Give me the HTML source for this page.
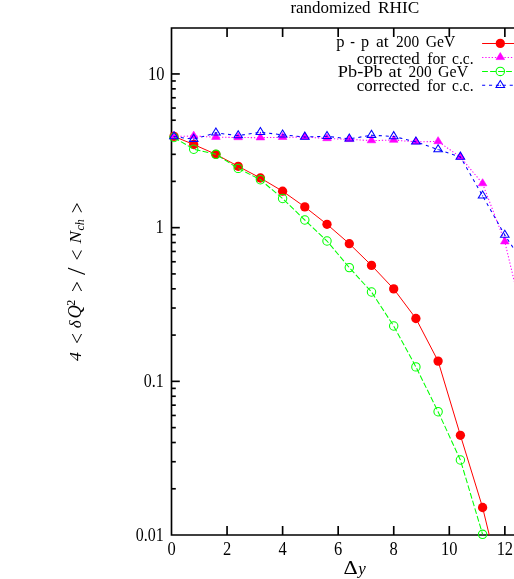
<!DOCTYPE html>
<html><head><meta charset="utf-8"><title>plot</title>
<style>html,body{margin:0;padding:0;background:#fff;overflow:hidden}svg text{font-family:"Liberation Serif",serif}</style></head>
<body>
<svg width="514" height="579" viewBox="0 0 514 579" style="display:block">
<rect width="514" height="579" fill="#fff"/>
<defs><clipPath id="pc"><rect x="171.5" y="27.95" width="400" height="507.05"/></clipPath></defs>
<g stroke="#000" stroke-width="1.65" fill="none" stroke-linecap="butt">
<path d="M519,27.95 H171.5 V535.0 H519"/>
<path d="M227.06,535.0 v-9 M227.06,27.95 v9"/>
<path d="M282.62,535.0 v-9 M282.62,27.95 v9"/>
<path d="M338.18,535.0 v-9 M338.18,27.95 v9"/>
<path d="M393.74,535.0 v-9 M393.74,27.95 v9"/>
<path d="M449.30,535.0 v-9 M449.30,27.95 v9"/>
<path d="M504.86,535.0 v-9 M504.86,27.95 v9"/>
<path d="M171.5,488.78 h4.3"/>
<path d="M171.5,461.72 h4.3"/>
<path d="M171.5,442.51 h4.3"/>
<path d="M171.5,427.62 h4.3"/>
<path d="M171.5,415.45 h4.3"/>
<path d="M171.5,405.16 h4.3"/>
<path d="M171.5,396.25 h4.3"/>
<path d="M171.5,388.38 h4.3"/>
<path d="M171.5,381.35 h8.3"/>
<path d="M171.5,335.08 h4.3"/>
<path d="M171.5,308.02 h4.3"/>
<path d="M171.5,288.81 h4.3"/>
<path d="M171.5,273.92 h4.3"/>
<path d="M171.5,261.75 h4.3"/>
<path d="M171.5,251.46 h4.3"/>
<path d="M171.5,242.55 h4.3"/>
<path d="M171.5,234.68 h4.3"/>
<path d="M171.5,227.65 h8.3"/>
<path d="M171.5,181.38 h4.3"/>
<path d="M171.5,154.32 h4.3"/>
<path d="M171.5,135.11 h4.3"/>
<path d="M171.5,120.22 h4.3"/>
<path d="M171.5,108.05 h4.3"/>
<path d="M171.5,97.76 h4.3"/>
<path d="M171.5,88.85 h4.3"/>
<path d="M171.5,80.98 h4.3"/>
<path d="M171.5,73.95 h8.3"/>
</g>
<g fill="none" stroke-width="1.05">
<polyline clip-path="url(#pc)" points="174.0,136.4 193.7,144.5 215.9,154.3 238.2,166.3 260.4,178.0 282.6,191.2 304.8,206.9 327.0,224.3 349.3,243.7 371.5,265.4 393.7,288.9 415.9,318.5 438.1,361.1 460.4,435.3 482.6,507.5 504.8,599.0" stroke="#ff0000" stroke-width="1.0"/>
<circle cx="174.0" cy="136.4" r="4.65" fill="#ff0000" stroke="none"/>
<circle cx="193.7" cy="144.5" r="4.65" fill="#ff0000" stroke="none"/>
<circle cx="215.9" cy="154.3" r="4.65" fill="#ff0000" stroke="none"/>
<circle cx="238.2" cy="166.3" r="4.65" fill="#ff0000" stroke="none"/>
<circle cx="260.4" cy="178.0" r="4.65" fill="#ff0000" stroke="none"/>
<circle cx="282.6" cy="191.2" r="4.65" fill="#ff0000" stroke="none"/>
<circle cx="304.8" cy="206.9" r="4.65" fill="#ff0000" stroke="none"/>
<circle cx="327.0" cy="224.3" r="4.65" fill="#ff0000" stroke="none"/>
<circle cx="349.3" cy="243.7" r="4.65" fill="#ff0000" stroke="none"/>
<circle cx="371.5" cy="265.4" r="4.65" fill="#ff0000" stroke="none"/>
<circle cx="393.7" cy="288.9" r="4.65" fill="#ff0000" stroke="none"/>
<circle cx="415.9" cy="318.5" r="4.65" fill="#ff0000" stroke="none"/>
<circle cx="438.1" cy="361.1" r="4.65" fill="#ff0000" stroke="none"/>
<circle cx="460.4" cy="435.3" r="4.65" fill="#ff0000" stroke="none"/>
<circle cx="482.6" cy="507.5" r="4.65" fill="#ff0000" stroke="none"/>
<polyline clip-path="url(#pc)" points="174.0,136.5 193.7,136.0 215.9,137.2 238.2,137.5 260.4,137.7 282.6,137.3 304.8,137.0 327.0,138.5 349.3,139.4 371.5,140.6 393.7,140.1 415.9,141.8 438.1,141.5 460.4,157.0 482.6,183.6 504.8,241.7 527.0,334.5" stroke="#ff00ff" stroke-dasharray="1.3 1.9"/>
<path d="M174.0,131.63 L169.70,138.68 L178.30,138.68 Z" fill="#ff00ff" stroke="#ff00ff" stroke-width="0.6"/>
<path d="M193.7,131.13 L189.42,138.18 L198.02,138.18 Z" fill="#ff00ff" stroke="#ff00ff" stroke-width="0.6"/>
<path d="M215.9,132.33 L211.64,139.38 L220.24,139.38 Z" fill="#ff00ff" stroke="#ff00ff" stroke-width="0.6"/>
<path d="M238.2,132.63 L233.86,139.68 L242.46,139.68 Z" fill="#ff00ff" stroke="#ff00ff" stroke-width="0.6"/>
<path d="M260.4,132.83 L256.08,139.88 L264.68,139.88 Z" fill="#ff00ff" stroke="#ff00ff" stroke-width="0.6"/>
<path d="M282.6,132.43 L278.30,139.48 L286.90,139.48 Z" fill="#ff00ff" stroke="#ff00ff" stroke-width="0.6"/>
<path d="M304.8,132.13 L300.52,139.18 L309.12,139.18 Z" fill="#ff00ff" stroke="#ff00ff" stroke-width="0.6"/>
<path d="M327.0,133.63 L322.74,140.68 L331.34,140.68 Z" fill="#ff00ff" stroke="#ff00ff" stroke-width="0.6"/>
<path d="M349.3,134.53 L344.96,141.58 L353.56,141.58 Z" fill="#ff00ff" stroke="#ff00ff" stroke-width="0.6"/>
<path d="M371.5,135.73 L367.18,142.78 L375.78,142.78 Z" fill="#ff00ff" stroke="#ff00ff" stroke-width="0.6"/>
<path d="M393.7,135.23 L389.40,142.28 L398.00,142.28 Z" fill="#ff00ff" stroke="#ff00ff" stroke-width="0.6"/>
<path d="M415.9,136.93 L411.62,143.98 L420.22,143.98 Z" fill="#ff00ff" stroke="#ff00ff" stroke-width="0.6"/>
<path d="M438.1,136.63 L433.84,143.68 L442.44,143.68 Z" fill="#ff00ff" stroke="#ff00ff" stroke-width="0.6"/>
<path d="M460.4,152.13 L456.06,159.18 L464.66,159.18 Z" fill="#ff00ff" stroke="#ff00ff" stroke-width="0.6"/>
<path d="M482.6,178.73 L478.28,185.78 L486.88,185.78 Z" fill="#ff00ff" stroke="#ff00ff" stroke-width="0.6"/>
<path d="M504.8,236.83 L500.50,243.88 L509.10,243.88 Z" fill="#ff00ff" stroke="#ff00ff" stroke-width="0.6"/>
<polyline clip-path="url(#pc)" points="174.0,137.5 193.7,149.2 215.9,154.3 238.2,168.4 260.4,179.7 282.6,198.5 304.8,220.0 327.0,241.0 349.3,267.6 371.5,292.0 393.7,326.0 415.9,366.9 438.1,411.7 460.4,460.0 482.6,534.3" stroke="#00ff00" stroke-width="1.05" stroke-dasharray="5.8 2.2"/>
<circle cx="174.0" cy="137.5" r="4.2" stroke="#00ff00"/>
<circle cx="193.7" cy="149.2" r="4.2" stroke="#00ff00"/>
<circle cx="215.9" cy="154.3" r="4.2" stroke="#00ff00"/>
<circle cx="238.2" cy="168.4" r="4.2" stroke="#00ff00"/>
<circle cx="260.4" cy="179.7" r="4.2" stroke="#00ff00"/>
<circle cx="282.6" cy="198.5" r="4.2" stroke="#00ff00"/>
<circle cx="304.8" cy="220.0" r="4.2" stroke="#00ff00"/>
<circle cx="327.0" cy="241.0" r="4.2" stroke="#00ff00"/>
<circle cx="349.3" cy="267.6" r="4.2" stroke="#00ff00"/>
<circle cx="371.5" cy="292.0" r="4.2" stroke="#00ff00"/>
<circle cx="393.7" cy="326.0" r="4.2" stroke="#00ff00"/>
<circle cx="415.9" cy="366.9" r="4.2" stroke="#00ff00"/>
<circle cx="438.1" cy="411.7" r="4.2" stroke="#00ff00"/>
<circle cx="460.4" cy="460.0" r="4.2" stroke="#00ff00"/>
<circle cx="482.6" cy="534.3" r="4.2" stroke="#00ff00"/>
<polyline clip-path="url(#pc)" points="174.0,136.6 193.7,139.2 215.9,132.9 238.2,135.6 260.4,132.3 282.6,134.8 304.8,137.0 327.0,136.3 349.3,138.9 371.5,135.2 393.7,136.5 415.9,141.9 438.1,149.6 460.4,157.0 482.6,195.8 504.8,235.1 527.0,268.5" stroke="#0000ff" stroke-dasharray="3.1 3.8"/>
<path d="M174.0,131.73 L169.70,138.78 L178.30,138.78 Z" stroke="#0000ff"/>
<circle cx="174.0" cy="136.6" r="0.6" fill="#0000ff" stroke="none"/>
<path d="M193.7,134.33 L189.42,141.38 L198.02,141.38 Z" stroke="#0000ff"/>
<circle cx="193.7" cy="139.2" r="0.6" fill="#0000ff" stroke="none"/>
<path d="M215.9,128.03 L211.64,135.08 L220.24,135.08 Z" stroke="#0000ff"/>
<circle cx="215.9" cy="132.9" r="0.6" fill="#0000ff" stroke="none"/>
<path d="M238.2,130.73 L233.86,137.78 L242.46,137.78 Z" stroke="#0000ff"/>
<circle cx="238.2" cy="135.6" r="0.6" fill="#0000ff" stroke="none"/>
<path d="M260.4,127.43 L256.08,134.48 L264.68,134.48 Z" stroke="#0000ff"/>
<circle cx="260.4" cy="132.3" r="0.6" fill="#0000ff" stroke="none"/>
<path d="M282.6,129.93 L278.30,136.98 L286.90,136.98 Z" stroke="#0000ff"/>
<circle cx="282.6" cy="134.8" r="0.6" fill="#0000ff" stroke="none"/>
<path d="M304.8,132.13 L300.52,139.18 L309.12,139.18 Z" stroke="#0000ff"/>
<circle cx="304.8" cy="137.0" r="0.6" fill="#0000ff" stroke="none"/>
<path d="M327.0,131.43 L322.74,138.48 L331.34,138.48 Z" stroke="#0000ff"/>
<circle cx="327.0" cy="136.3" r="0.6" fill="#0000ff" stroke="none"/>
<path d="M349.3,134.03 L344.96,141.08 L353.56,141.08 Z" stroke="#0000ff"/>
<circle cx="349.3" cy="138.9" r="0.6" fill="#0000ff" stroke="none"/>
<path d="M371.5,130.33 L367.18,137.38 L375.78,137.38 Z" stroke="#0000ff"/>
<circle cx="371.5" cy="135.2" r="0.6" fill="#0000ff" stroke="none"/>
<path d="M393.7,131.63 L389.40,138.68 L398.00,138.68 Z" stroke="#0000ff"/>
<circle cx="393.7" cy="136.5" r="0.6" fill="#0000ff" stroke="none"/>
<path d="M415.9,137.03 L411.62,144.08 L420.22,144.08 Z" stroke="#0000ff"/>
<circle cx="415.9" cy="141.9" r="0.6" fill="#0000ff" stroke="none"/>
<path d="M438.1,144.73 L433.84,151.78 L442.44,151.78 Z" stroke="#0000ff"/>
<circle cx="438.1" cy="149.6" r="0.6" fill="#0000ff" stroke="none"/>
<path d="M460.4,152.13 L456.06,159.18 L464.66,159.18 Z" stroke="#0000ff"/>
<circle cx="460.4" cy="157.0" r="0.6" fill="#0000ff" stroke="none"/>
<path d="M482.6,190.93 L478.28,197.98 L486.88,197.98 Z" stroke="#0000ff"/>
<circle cx="482.6" cy="195.8" r="0.6" fill="#0000ff" stroke="none"/>
<path d="M504.8,230.23 L500.50,237.28 L509.10,237.28 Z" stroke="#0000ff"/>
<circle cx="504.8" cy="235.1" r="0.6" fill="#0000ff" stroke="none"/>
</g>
<g fill="none" stroke-width="1.05">
<path d="M482.1,43.4 H520" stroke="#ff0000"/><circle cx="500.3" cy="43.4" r="4.65" fill="#ff0000"/>
<path d="M482.1,57.4 H520" stroke="#ff00ff" stroke-dasharray="1.3 1.9"/><path d="M500.3,52.53 L496.00,59.57 L504.60,59.57 Z" fill="#ff00ff" stroke="#ff00ff" stroke-width="0.6"/>
<path d="M482.1,71.4 H520" stroke="#00ff00" stroke-dasharray="5.8 2.2"/><circle cx="500.3" cy="71.4" r="4.2" stroke="#00ff00"/>
<path d="M482.1,85.33 H520" stroke="#0000ff" stroke-dasharray="3.1 3.8"/><path d="M500.3,80.46 L496.00,87.50 L504.60,87.50 Z" stroke="#0000ff"/><circle cx="500.3" cy="85.33" r="0.6" fill="#0000ff"/>
</g>
<g font-family="'Liberation Serif', serif" font-size="17" fill="#000" style="opacity:0.999">
<text transform="translate(290.40,12.70) scale(0.9975,1)">randomized</text>
<text transform="translate(378.00,12.70) scale(1.0174,1)">RHIC</text>
<text transform="translate(171.50,555.00) scale(0.9700,1.06)" word-spacing="1.1" text-anchor="middle">0</text>
<text transform="translate(227.06,555.00) scale(0.9700,1.06)" word-spacing="1.1" text-anchor="middle">2</text>
<text transform="translate(282.62,555.00) scale(0.9700,1.06)" word-spacing="1.1" text-anchor="middle">4</text>
<text transform="translate(338.18,555.00) scale(0.9700,1.06)" word-spacing="1.1" text-anchor="middle">6</text>
<text transform="translate(393.74,555.00) scale(0.9700,1.06)" word-spacing="1.1" text-anchor="middle">8</text>
<text transform="translate(449.30,555.00) scale(0.9700,1.06)" word-spacing="1.1" text-anchor="middle">10</text>
<text transform="translate(504.86,555.00) scale(0.9700,1.06)" word-spacing="1.1" text-anchor="middle">12</text>
<text transform="translate(164.50,79.70) scale(0.9700,1.06)" word-spacing="1.1" text-anchor="end">10</text>
<text transform="translate(163.70,233.40) scale(0.9700,1.06)" word-spacing="1.1" text-anchor="end">1</text>
<text transform="translate(163.70,387.10) scale(0.9400,1.06)" word-spacing="1.1" text-anchor="end">0.1</text>
<text transform="translate(163.70,540.80) scale(0.9400,1.06)" word-spacing="1.1" text-anchor="end">0.01</text>
<text transform="translate(336.20,47.10) scale(0.9750,1)">p</text>
<text transform="translate(350.20,47.10) scale(0.8246,1)">-</text>
<text transform="translate(361.00,47.10) scale(0.9500,1)">p</text>
<text transform="translate(375.90,47.10) scale(1.0320,1)">at</text>
<text transform="translate(396.10,47.10) scale(0.9040,1)">200</text>
<text transform="translate(425.70,47.10) scale(0.9207,1)">GeV</text>
<text transform="translate(356.80,63.90) scale(0.9953,1)">corrected</text>
<text transform="translate(427.20,63.90) scale(0.9303,1)">for</text>
<text transform="translate(452.10,63.90) scale(0.9142,1)">c.c.</text>
<text transform="translate(356.80,90.80) scale(0.9953,1)">corrected</text>
<text transform="translate(427.20,90.80) scale(0.9303,1)">for</text>
<text transform="translate(452.10,90.80) scale(0.9142,1)">c.c.</text>
<text transform="translate(337.80,76.70) scale(1.0779,1)">Pb-Pb</text>
<text transform="translate(388.60,76.70) scale(1.0640,1)">at</text>
<text transform="translate(408.60,76.70) scale(0.9000,1)">200</text>
<text transform="translate(438.10,76.70) scale(0.9360,1)">GeV</text>
<text transform="translate(343.4,574) scale(1.3,1.08)">Δ</text><text x="358.2" y="574" font-style="italic">y</text>
<text transform="translate(81.20,361.00) rotate(-90) scale(1.05,1)" font-size="17" font-style="italic">4</text>
<text transform="translate(83.70,344.00) rotate(-90) scale(1.2,1.25)" font-size="16">&lt;</text>
<text transform="translate(81.20,328.30) rotate(-90) scale(1.0,1)" font-size="17" font-style="italic">δ</text>
<text transform="translate(81.20,318.50) rotate(-90) scale(1.0,1)" font-size="18.5" font-style="italic">Q</text>
<text transform="translate(74.70,305.70) rotate(-90) scale(1.0,1)" font-size="12">2</text>
<text transform="translate(83.70,292.10) rotate(-90) scale(1.2,1.25)" font-size="16">&gt;</text>
<text transform="translate(85.10,274.90) rotate(-90) scale(1.42,1.3)" font-size="19">/</text>
<text transform="translate(83.70,260.50) rotate(-90) scale(1.2,1.25)" font-size="16">&lt;</text>
<text transform="translate(81.20,243.40) rotate(-90) scale(1.1,1)" font-size="17" font-style="italic">N</text>
<text transform="translate(84.00,230.60) rotate(-90) scale(1.0,1)" font-size="12" font-style="italic">ch</text>
<text transform="translate(83.70,213.30) rotate(-90) scale(1.2,1.25)" font-size="16">&gt;</text>
</g>
</svg>
</body></html>
